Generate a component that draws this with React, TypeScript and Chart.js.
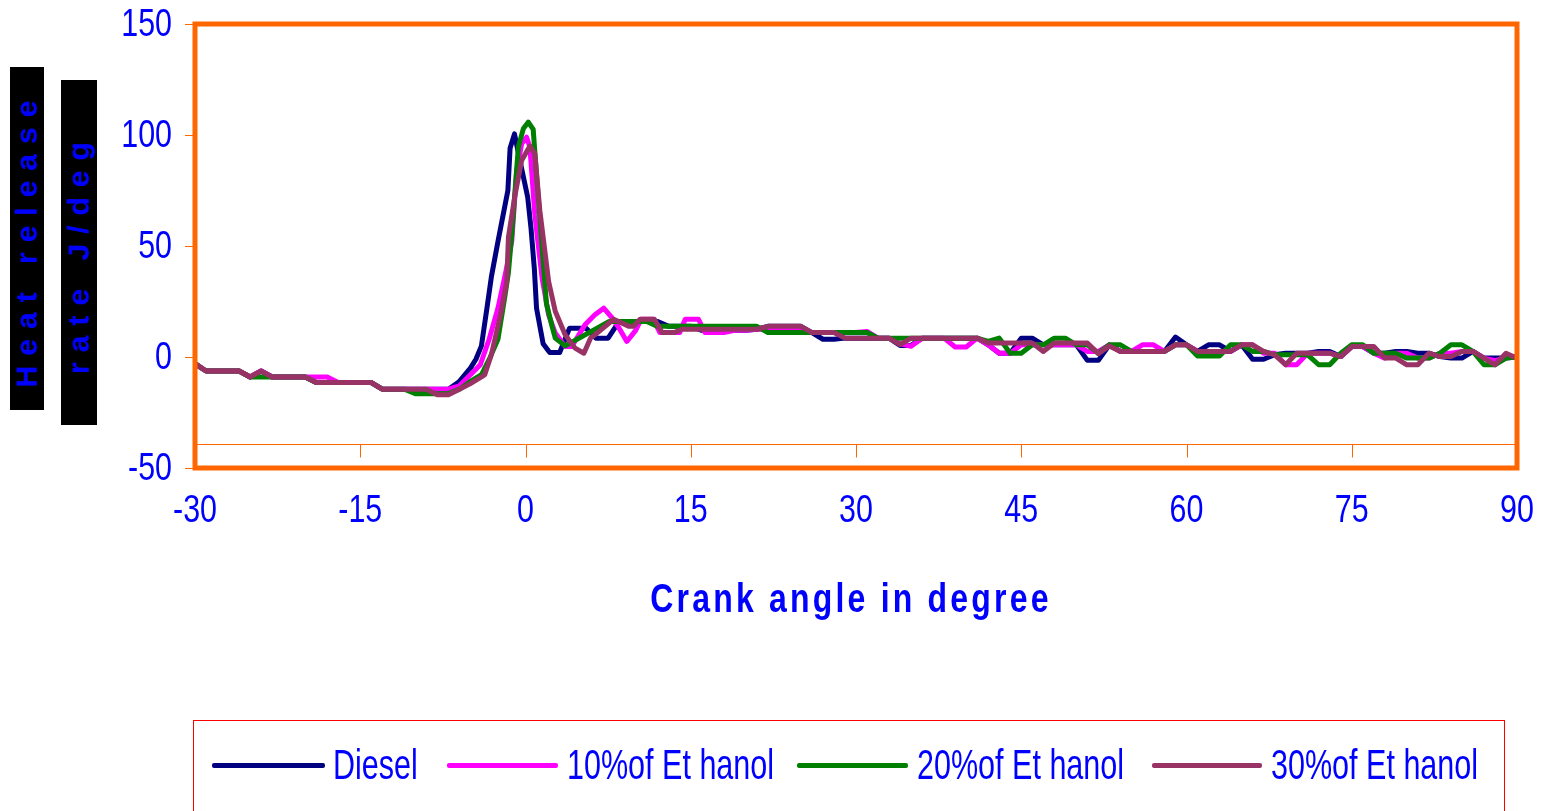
import React, { useEffect, useRef } from "react";
import { Chart, registerables } from "chart.js";

Chart.register(...registerables);

// ---------------- data ----------------
const seriesLabels = ["Diesel", "10%of Et hanol", "20%of Et hanol", "30%of Et hanol"];
const seriesColors = ["#000080", "#FF00FF", "#008000", "#993366"];

const xMin = -30;
const xMax = 90;
const xStep = 15;
const yMin = -50;
const yMax = 150;
const yStep = 50;
const axisCrossValue = -39;

const dieselAngles = [
  -30, -29, -28, -27, -26, -25, -24, -23, -22, -21, -20, -19, -18, -17, -16, -15, -14, -13, -12, -11, -10, -9, -8, -7,
  -6, -5, -4.5, -4, -3.5, -3.1, -2.5, -1.6, -1.4, -1, -0.4, 0.2, 0.5, 0.8, 1, 1.6, 2.2, 3.1, 4, 5.5, 6.4, 7.5, 8.5,
  9, 10, 11, 12, 13, 14, 15, 16, 17, 18,
  19, 20, 21, 22, 23, 24, 25, 26, 27, 28,
  29, 30, 31, 32, 33, 34, 35, 36, 37, 38,
  39, 40, 41, 42, 43, 44, 45, 46, 47, 48,
  49, 50, 51, 52, 53, 54, 55, 56, 57, 58,
  59, 60, 61, 62, 63, 64, 65, 66, 67, 68,
  69, 70, 71, 72, 73, 74, 75, 76, 77, 78,
  79, 80, 81, 82, 83, 84, 85, 86, 87, 88,
  89, 90,
];
const dieselValues = [
  -3, -6.3, -6.3, -6.3, -6.3, -9, -6.3, -9, -9, -9, -9, -11.5, -11.5, -11.5, -11.5, -11.5, -11.5, -14.5, -14.5, -14.5, -14.5, -14.5, -14.5, -14.5,
  -11, -5, -1, 5, 22, 36, 52, 75, 94, 100.5, 86, 72, 58, 40, 22, 6, 2, 2, 13, 13, 8.5, 8.5, 16,
  16, 16, 16, 16, 13.8, 13.8, 13.8, 12, 12, 12,
  12, 12, 12.5, 13.8, 13.8, 13.8, 13.8, 11, 8, 8,
  8.5, 8.5, 8.5, 8.5, 8.5, 5.2, 5.2, 8.5, 8.5, 8.5,
  8.5, 8.5, 8.5, 5.5, 1.7, 1.7, 8.5, 8.5, 5.5, 5.5,
  5.5, 5.5, -1.5, -1.5, 5.5, 2.5, 2.5, 2.5, 2.5, 2.5,
  9, 5.5, 2.5, 5.5, 5.5, 2.5, 5.5, -1, -1, 1,
  1.7, 1.7, 1.7, 2.5, 2.5, 0.2, 4.7, 4.7, 1.7, 1.7,
  2.5, 2.5, 1.7, 1.7, 0.2, -0.5, -0.5, 2.5, -0.5, -0.5,
  -0.5, 0,
];

const ethanol10Angles = [
  -30, -29, -28, -27, -26, -25, -24, -23, -22, -21, -20, -19, -18, -17, -16, -15, -14, -13, -12, -11, -10, -9, -8, -7,
  -6, -5, -4.1, -3.3, -2.5, -1.8, -1.25, -0.8, -0.35, 0.1, 0.4, 0.85, 1.5, 2.1, 2.7, 3.6, 4.2, 5.4, 6.3, 7.1, 7.8, 8.5,
  9.2, 10, 10.5, 11.6, 12.2, 14, 14.5, 15.7, 16.3,
  17, 18, 19, 20, 21, 22, 23, 24, 25, 26,
  27, 28, 29, 30, 31, 32, 33, 34, 35, 36,
  37, 38, 39, 40, 41, 42, 43, 44, 45, 46,
  47, 48, 49, 50, 51, 52, 53, 54, 55, 56,
  57, 58, 59, 60, 61, 62, 63, 64, 65, 66,
  67, 68, 69, 70, 71, 72, 73, 74, 75, 76,
  77, 78, 79, 80, 81, 82, 83, 84, 85, 86,
  87, 88, 89, 90,
];
const ethanol10Values = [
  -3, -6.3, -6.3, -6.3, -6.3, -9, -6.3, -9, -9, -9, -9, -9, -9, -11.5, -11.5, -11.5, -11.5, -14.5, -14.5, -14.5, -14.5, -14.5, -14.5, -14.5,
  -13, -8, -3.5, 8, 22, 38, 52, 84, 96, 99, 94.5, 64, 35.7, 19, 10.8, 4.7, 4.7, 14.5, 19, 22, 18, 13,
  7, 12, 17, 17, 11, 11, 17, 17, 11,
  11, 11, 12, 12, 12.5, 12.5, 12.5, 12.5, 12.5, 11,
  11, 11, 11, 11, 11.5, 8.5, 8.5, 6, 4.8, 8.5,
  8.5, 8.5, 4.5, 4.5, 8.5, 5.5, 1.7, 1.7, 5.5, 5.5,
  5.5, 5.5, 5.5, 5.5, 2.5, 2.5, 5.5, 2.5, 2.5, 5.5,
  5.5, 2.5, 5.5, 5.5, 2.5, 2.5, 2.5, 2.5, 5.5, 5.5,
  1.7, 1.7, -3.5, -3.5, 1.7, 1.7, 1.7, 0.2, 4.7, 4.7,
  1.7, -0.5, 1.7, 1.7, -0.5, -0.5, 1.7, 1.7, 2.5, 2.5,
  -0.5, -1.7, 0, 0,
];

const ethanol20Angles = [
  -30, -29, -28, -27, -26, -25, -24, -23, -22, -21, -20, -19, -18, -17, -16, -15, -14, -13, -12, -11, -10, -9, -8, -7,
  -6, -5, -4, -3.2, -2.5, -1.85, -1.55, -1.25, -0.65, -0.2, 0.25, 0.7, 1, 1.5, 1.9, 2.4, 2.7, 3.6, 7.6,
  8, 9, 10, 11, 12, 13, 14, 15, 16, 17,
  18, 19, 20, 21, 22, 23, 24, 25, 26, 27,
  28, 29, 30, 31, 32, 33, 34, 35, 36, 37,
  38, 39, 40, 41, 42, 43, 44, 45, 46, 47,
  48, 49, 50, 51, 52, 53, 54, 55, 56, 57,
  58, 59, 60, 61, 62, 63, 64, 65, 66, 67,
  68, 69, 70, 71, 72, 73, 74, 75, 76, 77,
  78, 79, 80, 81, 82, 83, 84, 85, 86, 87,
  88, 89, 90,
];
const ethanol20Values = [
  -3, -6.3, -6.3, -6.3, -6.3, -9, -9, -9, -9, -9, -9, -11.5, -11.5, -11.5, -11.5, -11.5, -11.5, -14.5, -14.5, -14.5, -16.5, -16.5, -16.5, -16.5,
  -14.5, -11, -8, 0, 8, 28, 38, 55, 94.5, 102.8, 105.8, 102.5, 82, 50, 24, 14, 8.5, 5, 16,
  16, 16, 16, 16, 13.8, 13.8, 13.8, 13.8, 13.8, 13.8,
  13.8, 13.8, 13.8, 13.8, 11, 11, 11, 11, 11, 11,
  11, 11, 11, 11, 8.5, 8.5, 8.5, 8.5, 8.5, 8.5,
  8.5, 8.5, 8.5, 8.5, 7, 8.5, 1.7, 1.7, 5.5, 5.5,
  8.5, 8.5, 5.5, 5.5, 1.7, 5.5, 5.5, 2.5, 2.5, 2.5,
  2.5, 5.5, 5.5, 0.5, 0.5, 0.5, 5.5, 5.5, 2.5, 2.5,
  1, 1, 1, 1, -3.5, -3.5, 1.7, 5.5, 5.5, 1.7,
  1.7, 1.7, -0.5, -0.5, -0.5, 1.7, 5.5, 5.5, 2.5, -3.5,
  -3.5, -0.5, 0,
];

const ethanol30Angles = [
  -30, -29, -28, -27, -26, -25, -24, -23, -22, -21, -20, -19, -18, -17, -16, -15, -14, -13, -12, -11, -10, -9, -8, -7,
  -6, -5, -4, -3.7, -3.1, -2.2, -1.7, -1.55, -0.95, -0.35, 0.4, 0.85, 1.3, 2.1, 2.7, 3.6, 4.5, 5.3, 5.9, 6.3, 8,
  9.4, 9.8, 10.4, 11.7, 12.4, 13.5, 14.2,
  15, 16, 17, 18, 19, 20, 21, 22, 23, 24,
  25, 26, 27, 28, 29, 30, 31, 32, 33, 34,
  35, 36, 37, 38, 39, 40, 41, 42, 43, 44,
  45, 46, 47, 48, 49, 50, 51, 52, 53, 54,
  55, 56, 57, 58, 59, 60, 61, 62, 63, 64,
  65, 66, 67, 68, 69, 70, 71, 72, 73, 74,
  75, 76, 77, 78, 79, 80, 81, 82, 83, 84,
  85, 86, 87, 88, 89, 90,
];
const ethanol30Values = [
  -3, -6.3, -6.3, -6.3, -6.3, -9, -6.3, -9, -9, -9, -9, -11.5, -11.5, -11.5, -11.5, -11.5, -11.5, -14.5, -14.5, -14.5, -14.5, -14.5, -17, -17,
  -14.5, -12, -9, -8, 1, 20.6, 34, 54, 73, 88.5, 95, 91.6, 66, 34, 20.6, 10, 4, 1.7, 8.5, 10, 17,
  13.8, 13.8, 17, 17, 11, 11, 12.5,
  12.5, 12.5, 12.5, 12.5, 12.5, 12.5, 12.5, 13.8, 13.8, 13.8,
  13.8, 11, 11, 11, 8.5, 8.5, 8.5, 8.5, 8.5, 5.6,
  8.5, 8.5, 8.5, 8.5, 8.5, 8.5, 8.5, 6.3, 6.3, 6.3,
  6.3, 6.3, 2.5, 6.3, 6.3, 6.3, 6.3, 1.5, 5, 2.5,
  2.5, 2.5, 2.5, 2.5, 5.5, 5.5, 2.5, 2.5, 2.5, 2.5,
  5.5, 5.5, 2.5, 1, -3.5, 1.7, 1.7, 1.7, 1.7, 0.2,
  4.7, 4.7, 4.7, -0.5, -0.5, -3.5, -3.5, 1.7, 0.2, 0.2,
  2.5, 2.5, -0.5, -3.5, 1.7, -0.5,
];

const seriesAngles = [dieselAngles, ethanol10Angles, ethanol20Angles, ethanol30Angles];
const seriesValues = [dieselValues, ethanol10Values, ethanol20Values, ethanol30Values];

const xAxisTitle = "Crank angle in degree";
const yAxisTitleLines = ["Heat release", "rate J/deg"];

// ---------------- styles ----------------
const BLUE = "#0000FF";
const ORANGE = "#FF6600";
const SANS = "'Liberation Sans', Arial, sans-serif";
const TICK_FONT = "39px 'Liberation Sans', Arial, sans-serif";
const TICK_SQUEEZE = 0.78;

// draws the frame, the category-axis line, tick marks and the (condensed) tick labels
// taken from Chart.js's own scales
const framePlugin = {
  id: "frame",
  afterDraw(chart: any) {
    const { ctx, chartArea, scales } = chart;
    const { left, right, top, bottom } = chartArea;
    const xs = scales.x;
    const ys = scales.y;
    ctx.save();
    const yLine = Math.round(ys.getPixelForValue(axisCrossValue)) + 0.5;
    ctx.strokeStyle = ORANGE;
    ctx.lineWidth = 1;
    ctx.beginPath();
    ctx.moveTo(left, yLine);
    ctx.lineTo(right, yLine);
    xs.ticks.forEach((t: any) => {
      const px = Math.round(xs.getPixelForValue(t.value)) + 0.5;
      ctx.moveTo(px, yLine);
      ctx.lineTo(px, yLine + 13);
    });
    ys.ticks.forEach((t: any) => {
      const py = Math.round(ys.getPixelForValue(t.value)) + 0.5;
      ctx.moveTo(left - 10, py);
      ctx.lineTo(left, py);
    });
    ctx.stroke();
    ctx.lineWidth = 5;
    ctx.strokeStyle = ORANGE;
    ctx.strokeRect(left, top, right - left, bottom - top);

    // tick labels
    ctx.fillStyle = BLUE;
    ctx.font = TICK_FONT;
    ctx.textBaseline = "middle";
    ctx.textAlign = "center";
    xs.ticks.forEach((t: any) => {
      const px = xs.getPixelForValue(t.value);
      ctx.save();
      ctx.translate(px, bottom + 43);
      ctx.scale(TICK_SQUEEZE, 1);
      ctx.fillText(String(t.label), 0, 0);
      ctx.restore();
    });
    ctx.textAlign = "right";
    ys.ticks.forEach((t: any) => {
      const py = ys.getPixelForValue(t.value);
      ctx.save();
      ctx.translate(left - 23, py + 1);
      ctx.scale(TICK_SQUEEZE, 1);
      ctx.fillText(String(t.label), 0, 0);
      ctx.restore();
    });
    ctx.restore();
  },
};

export default function App() {
  const canvasRef = useRef<HTMLCanvasElement | null>(null);

  useEffect(() => {
    const canvas = canvasRef.current;
    if (!canvas) return;
    const orders = [4, 3, 2, 1];
    const chart = new Chart(canvas, {
      type: "line",
      data: {
        datasets: seriesLabels.map((label, i) => ({
          label,
          data: seriesAngles[i].map((a, j) => ({ x: a, y: seriesValues[i][j] })),
          borderColor: seriesColors[i],
          backgroundColor: seriesColors[i],
          borderWidth: 5,
          pointRadius: 0,
          tension: 0,
          fill: false,
          borderJoinStyle: "round" as const,
          borderCapStyle: "round" as const,
          order: orders[i],
        })),
      },
      options: {
        animation: false,
        responsive: false,
        maintainAspectRatio: false,
        events: [],
        layout: { padding: { left: 0, right: 29, top: 24, bottom: 0 } },
        plugins: {
          legend: { display: false },
          tooltip: { enabled: false },
          title: { display: false },
        },
        scales: {
          x: {
            type: "linear",
            min: xMin,
            max: xMax,
            afterFit: (s: any) => {
              s.height = 343;
            },
            grid: { display: false, drawTicks: false },
            border: { display: false },
            ticks: { stepSize: xStep, autoSkip: false, maxRotation: 0, display: false },
          },
          y: {
            type: "linear",
            min: yMin,
            max: yMax,
            afterFit: (s: any) => {
              s.width = 195;
            },
            grid: { display: false, drawTicks: false },
            border: { display: false },
            ticks: { stepSize: yStep, display: false },
          },
        },
      },
      plugins: [framePlugin],
    });
    return () => chart.destroy();
  }, []);

  const legendItems = [
    { lineLeft: 212, lineRight: 325, textLeft: 333 },
    { lineLeft: 447, lineRight: 558, textLeft: 567 },
    { lineLeft: 797, lineRight: 908, textLeft: 917 },
    { lineLeft: 1152, lineRight: 1262, textLeft: 1271 },
  ];

  const yTitleBoxes = [
    { left: 10, top: 67, width: 34, height: 343 },
    { left: 61, top: 80, width: 36, height: 345 },
  ];

  return (
    <div
      style={{
        position: "fixed",
        left: 0,
        top: 0,
        width: 1546,
        height: 811,
        background: "#FFFFFF",
        overflow: "hidden",
      }}
    >
      <canvas
        ref={canvasRef}
        width={1546}
        height={811}
        style={{ position: "absolute", left: 0, top: 0, width: 1546, height: 811 }}
      />
      {yTitleBoxes.map((b, i) => (
        <div
          key={i}
          style={{
            position: "absolute",
            left: b.left,
            top: b.top,
            width: b.width,
            height: b.height,
            background: "#000000",
            overflow: "hidden",
          }}
        >
          <div
            style={{
              position: "absolute",
              left: "50%",
              top: "50%",
              width: b.height,
              height: b.width,
              lineHeight: b.width + "px",
              transform: "translate(-50%, -50%) rotate(-90deg)",
              textAlign: "center",
              whiteSpace: "nowrap",
              color: BLUE,
              fontFamily: SANS,
              fontWeight: "bold",
              fontSize: 30,
              letterSpacing: 10,
            }}
          >
            {yAxisTitleLines[i]}
          </div>
        </div>
      ))}
      <div
        style={{
          position: "absolute",
          left: 0,
          top: 574,
          width: 1702,
          textAlign: "center",
          whiteSpace: "nowrap",
          color: BLUE,
          fontFamily: SANS,
          fontWeight: "bold",
          fontSize: 40,
          lineHeight: "48px",
        }}
      >
        <span style={{ display: "inline-block", letterSpacing: 4, transform: "scaleX(0.8)" }}>{xAxisTitle}</span>
      </div>
      <div
        style={{
          position: "absolute",
          left: 193,
          top: 720,
          width: 1312,
          height: 120,
          border: "1px solid #FF0000",
          boxSizing: "border-box",
        }}
      />
      {legendItems.map((it, i) => (
        <React.Fragment key={i}>
          <div
            style={{
              position: "absolute",
              left: it.lineLeft,
              top: 763,
              width: it.lineRight - it.lineLeft,
              height: 5,
              borderRadius: 2,
              background: seriesColors[i],
            }}
          />
          <div
            style={{
              position: "absolute",
              left: it.textLeft,
              top: 738,
              height: 52,
              lineHeight: "52px",
              whiteSpace: "nowrap",
              color: BLUE,
              fontFamily: SANS,
              fontSize: 43,
              transform: "scaleX(0.71)",
              transformOrigin: "left center",
            }}
          >
            {seriesLabels[i]}
          </div>
        </React.Fragment>
      ))}
    </div>
  );
}
